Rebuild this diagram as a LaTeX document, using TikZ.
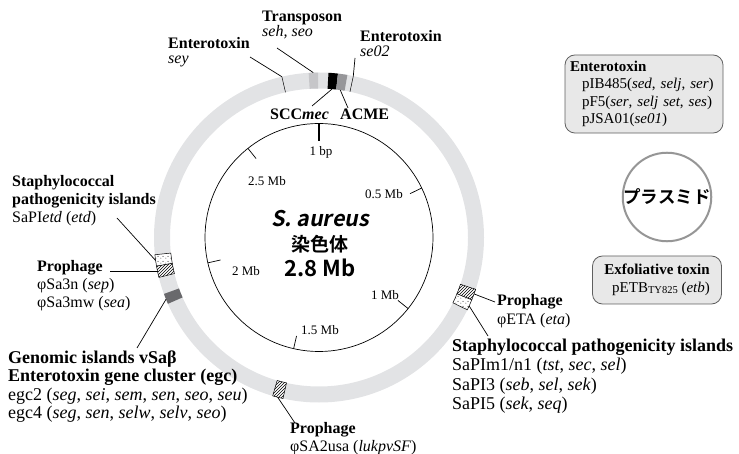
\documentclass[tikz,border=0pt]{standalone}
\usepackage{fontspec}
\setmainfont{Liberation Serif}
\newfontfamily\jpb{Noto Sans CJK JP Bold}
\newfontfamily\jpbsl{Noto Sans CJK JP Bold}[FakeSlant=0.2]
\usetikzlibrary{patterns}
\definecolor{ringgray}{RGB}{226,227,229}
\definecolor{tpgray}{RGB}{198,198,201}
\definecolor{acmegray}{RGB}{150,150,153}
\definecolor{vsagray}{RGB}{105,105,108}
\definecolor{boxfill}{RGB}{232,232,232}
\definecolor{boxdraw}{RGB}{95,95,95}
\definecolor{plasdraw}{RGB}{150,150,150}
\pgfdeclarepatternformonly{sparsedots}{\pgfqpoint{0pt}{0pt}}{\pgfqpoint{5pt}{5pt}}{\pgfqpoint{5pt}{5pt}}{%
  \pgfpathcircle{\pgfqpoint{1pt}{1pt}}{0.55pt}%
  \pgfpathcircle{\pgfqpoint{3.5pt}{3pt}}{0.55pt}%
  \pgfusepath{fill}}
\newcommand\ringseg[2]{(#1:149) arc[start angle=#1,end angle=#2,radius=149] -- (#2:165) arc[start angle=#2,end angle=#1,radius=165] -- cycle}
\newcommand\fsTop{\fontsize{16}{15.5}\selectfont}
\newcommand\fsLeft{\fontsize{16}{18}\selectfont}
\newcommand\fsBot{\fontsize{18}{18.5}\selectfont}
\newcommand\fsRight{\fontsize{18}{19.5}\selectfont}
\newcommand\fsBox{\fontsize{15}{17.5}\selectfont}
\newcommand\fsTick{\fontsize{13}{13}\selectfont}
\begin{document}
\begin{tikzpicture}[x=1pt,y=1pt,
  lab/.style={anchor=base west, inner sep=0pt, align=left},
  leader/.style={draw=black, line width=0.7pt},
  featline/.style={draw=black, line width=0.5pt},
  hatchbox/.style={featline, preaction={fill=white}, pattern=north east lines},
  dotbox/.style={featline, preaction={fill=white}, pattern=sparsedots},
  ticklab/.style={inner sep=0pt, font=\fsTick},
  pbox/.style={draw=boxdraw, fill=boxfill, line width=0.8pt, rounded corners=10pt, align=left, inner xsep=5pt, inner ysep=6pt, font=\fsBox},
]
\useasboundingbox (0,0) rectangle (739,-454);
\begin{scope}[shift={(319,-237.5)}]
  % ring
  \draw[ringgray, line width=16] (0,0) circle (157);
  % top features
  \fill[tpgray] \ringseg{90.3}{93.6};
  \fill[black] \ringseg{83.4}{86.7};
  \fill[acmegray] \ringseg{80.1}{83.4};
  \draw[featline] (103:149) -- (103:165);
  \draw[featline] (78:149) -- (78:165);
  % left features
  \draw[dotbox] \ringseg{186}{190};
  \draw[hatchbox] \ringseg{190}{194};
  \fill[vsagray] \ringseg{200}{203.7};
  % bottom
  \draw[hatchbox] \ringseg{253.7}{257.4};
  % right
  \draw[hatchbox] \ringseg{-22.2}{-18.3};
  \draw[dotbox] \ringseg{-26}{-22.2};
  % leader anchors on ring
  \coordinate (seyR) at (103:165);
  \coordinate (tpR) at (92:165);
  \coordinate (sccR) at (85:149);
  \coordinate (acmeR) at (81.8:149);
  \coordinate (se02R) at (78:165);
  \coordinate (etdR) at (188:165);
  \coordinate (pLR) at (192:165);
  \coordinate (vsaR) at (202:165);
  \coordinate (pBR) at (255.5:165);
  \coordinate (pRR) at (-20:165);
  \coordinate (sapRR) at (-24.5:165);
  % inner circle and ticks
  \draw[line width=0.7pt] (0,0) circle (114);
  \draw[line width=2.2pt] (90:114) -- (90:96);
  \draw[line width=0.7pt] (25.714:114) -- (25.714:101);
  \draw[line width=0.7pt] (-38.571:114) -- (-38.571:101);
  \draw[line width=0.7pt] (-102.857:114) -- (-102.857:101);
  \draw[line width=0.7pt] (-167.143:114) -- (-167.143:101);
  \draw[line width=0.7pt] (128.571:114) -- (128.571:101);
\end{scope}
% tick labels
\node[ticklab] (t0) at (321,-152) {1 bp};
\node[ticklab] (t1) at (384,-194) {0.5 Mb};
\node[ticklab] (t2) at (385,-295) {1 Mb};
\node[ticklab] (t3) at (320,-330) {1.5 Mb};
\node[ticklab] (t4) at (246,-271) {2 Mb};
\node[ticklab] (t5) at (267,-181) {2.5 Mb};
% centre text
\node[inner sep=0pt] (sa) at (320,-219) {\jpbsl\fontsize{21.5}{21.5}\selectfont S. aureus};
\node[inner sep=0pt] (chr) at (320,-244) {\jpb\fontsize{19}{19}\selectfont 染色体};
\node[inner sep=0pt] (size) at (320,-268) {\jpb\fontsize{22}{22}\selectfont 2.8 Mb};
% top labels (anchor = baseline of last line)
\node[lab, font=\fsTop] (tp) at (262,-37) {\textbf{Transposon}\\\textit{seh, seo}};
\node[lab, font=\fsTop] (ent1) at (168,-64) {\textbf{Enterotoxin}\\\textit{sey}};
\node[lab, font=\fsTop] (ent2) at (360,-57) {\textbf{Enterotoxin}\\\textit{se02}};
\node[lab, font=\fsTop] (scc) at (270,-120) {\textbf{SCC\textit{mec}}};
\node[lab, font=\fsTop] (acme) at (340,-120) {\textbf{ACME}};
% left labels
\node[lab, font=\fsLeft] (sapiL) at (12,-223) {\textbf{Staphylococcal}\\\textbf{pathogenicity islands}\\SaPI\textit{etd} (\textit{etd})};
\node[lab, font=\fsLeft] (proL) at (37,-308) {\textbf{Prophage}\\φSa3n (\textit{sep})\\φSa3mw (\textit{sea})};
\node[lab, font=\fsBot] (gi) at (8,-418.5) {\textbf{Genomic islands vSaβ}\\\textbf{Enterotoxin gene cluster (egc)}\\egc2 (\textit{seg}, \textit{sei}, \textit{sem}, \textit{sen}, \textit{seo}, \textit{seu})\\egc4 (\textit{seg}, \textit{sen}, \textit{selw}, \textit{selv}, \textit{seo})};
% bottom / right labels
\node[lab, font=\fsLeft] (proB) at (290,-451.5) {\textbf{Prophage}\\φSA2usa (\textit{lukpvSF})};
\node[lab, font=\fsLeft] (proR) at (497,-324) {\textbf{Prophage}\\φETA (\textit{eta})};
\node[lab, font=\fsRight] (sapiR) at (452,-409.5) {\textbf{Staphylococcal pathogenicity islands}\\SaPIm1/n1 (\textit{tst}, \textit{sec}, \textit{sel})\\SaPI3 (\textit{seb}, \textit{sel}, \textit{sek})\\SaPI5 (\textit{sek}, \textit{seq})};
% leaders
\coordinate (seyL) at (250,-57);
\coordinate (tpL) at (277,-48);
\coordinate (se02L) at (355,-58);
\coordinate (sccL) at (312,-106);
\coordinate (acmeL) at (348,-108);
\coordinate (etdL) at (117,-218);
\coordinate (pLL) at (110,-268);
\coordinate (vsaL) at (137,-348);
\coordinate (pBL) at (295,-423);
\coordinate (pRL) at (495,-302);
\coordinate (sapRL) at (488,-336);
\draw[leader] (seyL) -- (seyR);
\draw[leader] (tpL) -- (tpR);
\draw[leader] (se02L) -- (se02R);
\draw[leader] (sccR) -- (sccL);
\draw[leader] (acmeR) -- (acmeL);
\draw[leader] (etdL) -- (etdR);
\draw[leader] (pLR) -- (pLR -| pLL);
\draw[leader] (vsaL) -- (vsaR);
\draw[leader] (pBR) -- (pBL);
\draw[leader] (pRR) -- (pRL);
\draw[leader] (sapRR) -- (sapRL);
% plasmid side
\node[pbox, minimum width=158pt, minimum height=76pt, text width=148pt] (entbox) at (644,-94) {\textbf{Enterotoxin}\\\hspace*{12pt}pIB485(\textit{sed}, \textit{selj}, \textit{ser})\\\hspace*{12pt}pF5(\textit{ser}, \textit{selj set}, \textit{ses})\\\hspace*{12pt}pJSA01(\textit{se01})};
\node[circle, draw=plasdraw, line width=2pt, fill=white, minimum size=80pt, inner sep=0pt] (plas) at (667,-197) {\jpb\fontsize{17.5}{17.5}\selectfont プラスミド};
\node[pbox, minimum width=129pt, minimum height=48pt, align=center] (exbox) at (657,-280) {\textbf{Exfoliative toxin}\\\hspace*{8pt}pETB\raisebox{-1.5pt}{\fontsize{10.5}{10.5}\selectfont TY825} (\textit{etb})};
\end{tikzpicture}
\end{document}
